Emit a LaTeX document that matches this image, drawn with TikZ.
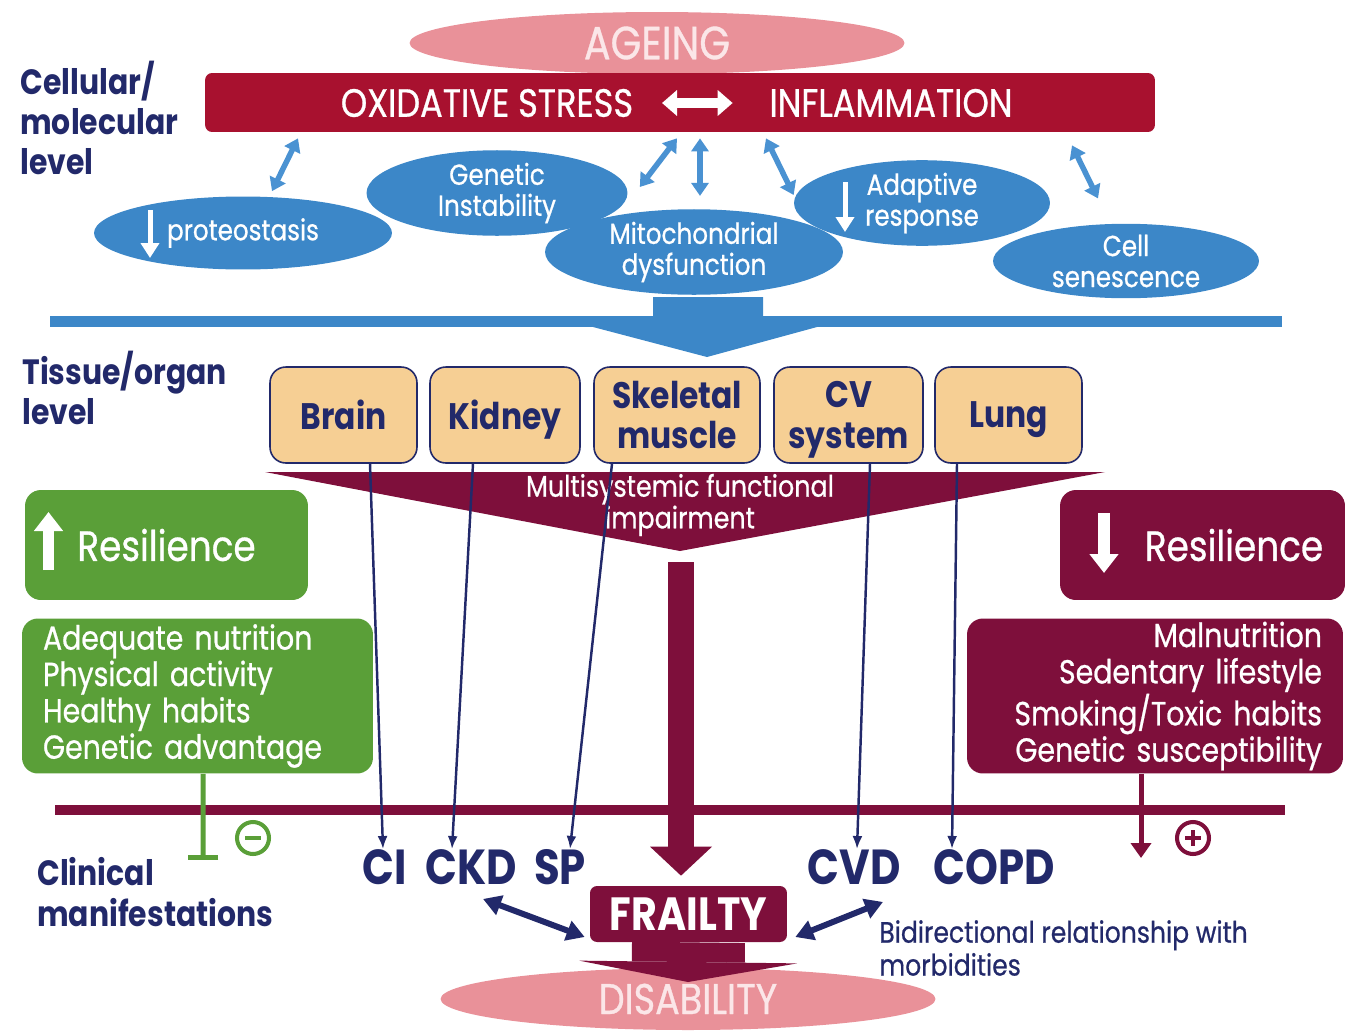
\documentclass[tikz,border=0pt]{standalone}
\usepackage{fontspec}
\setmainfont{Poppins}[FakeStretch=0.85]
\newfontfamily\medfont{Poppins}[FakeStretch=0.85, FakeBold=0.7]
\usetikzlibrary{arrows.meta, positioning, shapes.geometric}

\definecolor{crimson}{HTML}{A8112F}
\definecolor{maroon}{HTML}{7E0F3B}
\definecolor{rosy}{HTML}{E99199}
\definecolor{palerose}{HTML}{FBE6E8}
\definecolor{skyblue}{HTML}{3C87C8}
\definecolor{lightsky}{HTML}{4A92D2}
\definecolor{navy}{HTML}{22296A}
\definecolor{tan}{HTML}{F6CF94}
\definecolor{leaf}{HTML}{5A9F38}

\begin{document}
\begin{tikzpicture}[
	x=0.02cm, y=-0.02cm,
	lvl/.style={anchor=west, align=left, inner sep=0pt, text=navy,
		font=\fontsize{20}{23}\selectfont\bfseries},
	pinkoval/.style={ellipse, fill=rosy, inner sep=0pt, minimum width=9.9cm,
		minimum height=1.24cm, text=palerose, font=\medfont\fontsize{26.5}{28}\selectfont},
	bartext/.style={inner sep=0pt, text=white, font=\medfont\fontsize{22.5}{24}\selectfont},
	cloud/.style={ellipse, fill=skyblue, inner sep=0pt, text=white, align=center,
		font=\medfont\fontsize{16.5}{17.6}\selectfont},
	organ/.style={rectangle, draw=navy, line width=0.9pt, fill=tan, rounded corners=9pt,
		minimum height=1.92cm, text depth=0pt, text=navy, align=center,
		font=\fontsize{21}{23}\selectfont\bfseries},
	resbox/.style={rectangle, rounded corners=9pt, minimum height=2.2cm, inner sep=0pt,
		text=white, font=\medfont\fontsize{24}{26}\selectfont},
	listbox/.style={rectangle, rounded corners=9pt, minimum height=3.1cm, inner sep=0pt,
		text=white, font=\medfont\fontsize{19}{20.7}\selectfont},
	manif/.style={inner sep=0pt, text=navy, font=\fontsize{28}{30}\selectfont\bfseries},
	sign/.style={circle, minimum size=0.64cm, inner sep=0pt, line width=2.3pt},
	blink/.style={lightsky, line width=0.11cm,
		{Triangle[width=0.34cm,length=0.26cm]}-{Triangle[width=0.34cm,length=0.26cm]}},
	whitedown/.style={white, line width=0.1cm, -{Triangle[width=0.36cm,length=0.3cm]}},
	whitebig/.style={white, line width=0.24cm, -{Triangle[width=0.56cm,length=0.38cm]}},
	organline/.style={navy, line width=1.4pt, -{Latex[length=0.26cm,width=0.2cm]}},
	bidir/.style={navy, line width=0.12cm,
		{Triangle[width=0.4cm,length=0.36cm]}-{Triangle[width=0.4cm,length=0.36cm]}},
	]
	\useasboundingbox (0,0) rectangle (1345,1031);

	% cellular / molecular level
	\node [pinkoval] (ageing) at (657,43) {AGEING};
	\node [fill=crimson, rounded corners=4pt, minimum width=19cm, minimum height=1.18cm] (bar) at (680,102.5) {};
	\node [bartext] (ox) at (487,103) {OXIDATIVE STRESS};
	\node [bartext] (infl) at (891,103) {INFLAMMATION};
	\draw [white, line width=0.2cm, shorten <=0.57cm, shorten >=0.73cm,
		{Triangle[width=0.5cm,length=0.3cm]}-{Triangle[width=0.5cm,length=0.3cm]}] (ox.east) -- (infl.west);

	\node [lvl] (cell level) at (20,118) {Cellular/\\molecular\\level};

	\node [cloud, minimum width=5.96cm, minimum height=1.46cm] (prot) at (243,233) {proteostasis};
	\node [cloud, minimum width=5.22cm, minimum height=1.4cm] (gen) at (497,193) {Genetic\\Instability};
	\node [cloud, minimum width=5.96cm, minimum height=1.44cm] (mito) at (694,252) {Mitochondrial\\dysfunction};
	\node [cloud, minimum width=5.12cm, minimum height=1.46cm] (adapt) at (922,203) {Adaptive\\response};
	\node [cloud, minimum width=5.32cm, minimum height=1.44cm] (sen) at (1126,261) {Cell\\senescence};
	\draw [whitedown] ([shift={(-93,-23)}]prot.center) -- ([shift={(-93,25)}]prot.center);
	\draw [whitedown] ([shift={(-77,-21)}]adapt.center) -- ([shift={(-77,29)}]adapt.center);

	\draw [blink] ([shift={(29,-5)}]prot.north) -- ([shift={(-382,6)}]bar.south);
	\draw [blink] ([shift={(12,-6)}]gen.east) -- ([shift={(-3,6)}]bar.south);
	\draw [blink] ([shift={(6,-13)}]mito.north) -- ([shift={(20,6)}]bar.south);
	\draw [blink] ([shift={(0,-8)}]adapt.west) -- ([shift={(86,6)}]bar.south);
	\draw [blink] ([shift={(-28,-25)}]sen.north) -- ([shift={(392,13)}]bar.south);

	\fill [skyblue] (50,316) rectangle (1282,327);
	\fill [skyblue] (653,297) -- (763,297) -- (763,316) -- (817,327) -- (707,357) -- (593,327) -- (653,316) -- cycle;

	% tissue / organ level
	\node [lvl] (tissue level) at (22,388) {Tissue/organ\\level};
	\node [organ, minimum width=2.94cm] (brain) at (343.5,415) {Brain};
	\node [organ, minimum width=3.0cm] (kidney) at (505,415) {Kidney};
	\node [organ, minimum width=3.32cm] (skel) at (677,415) {Skeletal\\muscle};
	\node [organ, minimum width=2.98cm] (cv) at (848.5,415) {CV\\system};
	\node [organ, minimum width=2.94cm] (lung) at (1008.5,415) {Lung};

	\fill [maroon] (265,472) -- (1105,472) -- (680,551) -- cycle;
	\node [inner sep=0pt, text=white, align=center, font=\medfont\fontsize{17}{18}\selectfont] (multi) at (680,505) {Multisystemic functional\\impairment};

	\node [resbox, fill=leaf, minimum width=5.66cm] (resup) at (166.5,545) {Resilience};
	\draw [whitebig] ([shift={(-118,25)}]resup.center) -- ([shift={(-118,-33)}]resup.center);
	\node [resbox, fill=maroon, minimum width=5.7cm] (resdown) at (1202.5,545) {};
	\node [inner sep=0pt, text=white, font=\medfont\fontsize{24}{26}\selectfont] (resdown text) at (1234,545) {Resilience};
	\draw [whitebig] ([shift={(-98.5,-32)}]resdown.center) -- ([shift={(-98.5,28)}]resdown.center);

	\node [listbox, fill=leaf, minimum width=7.02cm, text width=6.18cm, align=left] (goodlist) at (197.5,696)
		{Adequate nutrition\\Physical activity\\Healthy habits\\Genetic advantage};
	\node [listbox, fill=maroon, minimum width=7.52cm, text width=6.68cm, align=right] (badlist) at (1155,696)
		{Malnutrition\\Sedentary lifestyle\\Smoking/Toxic habits\\Genetic susceptibility};

	% clinical manifestations
	\draw [maroon, line width=0.2cm] (55,810) -- (1285,810);
	\node [lvl] (clin level) at (37,892) {Clinical\\manifestations};

	\coordinate (inhib) at (203,860);
	\draw [leaf, line width=0.1cm, -{Bar[width=0.62cm]}] ([shift={(5.5,0)}]goodlist.south) -- (inhib);
	\node [sign, draw=leaf] (minus) at (253,838) {};
	\draw [leaf, line width=2.3pt] ([shift={(-8,0)}]minus.center) -- ([shift={(8,0)}]minus.center);

	\coordinate (worse) at (1141,858);
	\draw [maroon, line width=0.1cm, -{Triangle[width=0.4cm,length=0.3cm]}] ([shift={(-14,0)}]badlist.south) -- (worse);
	\node [sign, draw=maroon] (plus) at (1193,838) {};
	\draw [maroon, line width=2.3pt] ([shift={(-8,0)}]plus.center) -- ([shift={(8,0)}]plus.center);
	\draw [maroon, line width=2.3pt] ([shift={(0,-8)}]plus.center) -- ([shift={(0,8)}]plus.center);

	\node [manif] (ci) at (385,867) {CI};
	\node [manif] (ckd) at (471,867) {CKD};
	\node [manif] (sp) at (560,867) {SP};
	\node [manif] (cvd) at (854,867) {CVD};
	\node [manif] (copd) at (994,867) {COPD};

	\draw [organline] ([shift={(26.5,0)}]brain.south) -- ([shift={(-2,0)}]ci.north);
	\draw [organline] ([shift={(-32,0)}]kidney.south) -- ([shift={(-19,0)}]ckd.north);
	\draw [organline] ([shift={(-65,0)}]skel.south) -- ([shift={(10,0)}]sp.north);
	\draw [organline] ([shift={(21.5,0)}]cv.south) -- ([shift={(3,0)}]cvd.north);
	\draw [organline] ([shift={(-51.5,0)}]lung.south) -- ([shift={(-42,0)}]copd.north);

	% frailty and disability
	\node [pinkoval, font=\medfont\fontsize{24.5}{26}\selectfont] (dis) at (688,999) {DISABILITY};
	\node [fill=maroon, rounded corners=4pt, minimum width=3.94cm, minimum height=1.12cm, inner sep=0pt,
		text=white, font=\fontsize{26.5}{28}\selectfont\bfseries] (frailty) at (688.5,914) {FRAILTY};
	\coordinate (apex) at (681,562);
	\draw [maroon, line width=0.52cm, shorten >=0.2cm,
		-{Triangle[width=1.24cm,length=0.58cm,line width=0pt]}] (apex) -- ([shift={(-7.5,0)}]frailty.north);
	\draw [maroon, line width=2.26cm,
		-{Triangle[width=4.36cm,length=0.4cm,line width=0pt]}] (frailty.south) -- ([shift={(0,-17)}]dis.center);

	\draw [bidir] ([shift={(12,14)}]ckd.south) -- ([shift={(-5,23)}]frailty.west);
	\draw [bidir] ([shift={(29,17)}]cvd.south) -- ([shift={(8,23)}]frailty.east);
	\node [anchor=west, align=left, inner sep=0pt, text=navy, font=\medfont\fontsize{16.8}{18.7}\selectfont]
		(bidir text) at (879,948) {Bidirectional relationship with\\morbidities};
\end{tikzpicture}
\end{document}
